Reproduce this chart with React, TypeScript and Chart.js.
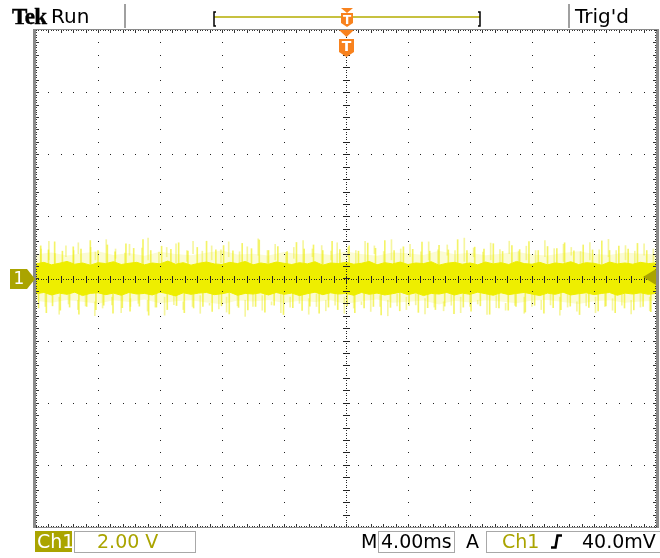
import React, { useEffect, useRef } from "react";
import { Chart, registerables } from "chart.js";

Chart.register(...registerables);

// ---- Scope settings ----
const timeRangeMs = [-20, 20]; // 4.00 ms/div, 10 divisions, trigger centred
const voltRange = [-8, 8]; // 2.00 V/div, 8 divisions, Ch1 ground at centre
const timePerDiv = 4;
const voltPerDiv = 2;
const triggerLevelV = 0.04;

// ---- Trace: dense core band (every 0.5 ms) ----
const coreTimes = Array.from({ length: 81 }, (_, i) => -20 + i * 0.5);
const coreHigh = [
  0.47, 0.52, 0.44, 0.49, 0.55, 0.46, 0.5, 0.43, 0.51, 0.48,
  0.54, 0.45, 0.49, 0.52, 0.44, 0.5, 0.47, 0.56, 0.46, 0.51,
  0.43, 0.49, 0.53, 0.47, 0.45, 0.52, 0.48, 0.55, 0.44, 0.5,
  0.46, 0.53, 0.49, 0.45, 0.51, 0.47, 0.54, 0.43, 0.5, 0.48,
  0.52, 0.46, 0.49, 0.55, 0.44, 0.51, 0.47, 0.53, 0.45, 0.5,
  0.48, 0.54, 0.43, 0.49, 0.52, 0.46, 0.5, 0.44, 0.53, 0.47,
  0.51, 0.45, 0.55, 0.48, 0.46, 0.52, 0.44, 0.5, 0.47, 0.54,
  0.45, 0.51, 0.49, 0.43, 0.53, 0.47, 0.5, 0.46, 0.52, 0.48,
  0.5,
];
const coreLow = [
  -0.49, -0.45, -0.53, -0.47, -0.51, -0.44, -0.55, -0.48, -0.46, -0.52,
  -0.47, -0.54, -0.45, -0.5, -0.48, -0.53, -0.44, -0.49, -0.56, -0.46,
  -0.51, -0.47, -0.45, -0.52, -0.49, -0.44, -0.54, -0.48, -0.5, -0.46,
  -0.53, -0.45, -0.51, -0.47, -0.55, -0.49, -0.44, -0.52, -0.46, -0.5,
  -0.48, -0.54, -0.45, -0.51, -0.47, -0.53, -0.49, -0.44, -0.52, -0.46,
  -0.55, -0.48, -0.5, -0.45, -0.53, -0.47, -0.51, -0.44, -0.49, -0.54,
  -0.46, -0.52, -0.48, -0.45, -0.5, -0.55, -0.47, -0.51, -0.44, -0.53,
  -0.49, -0.46, -0.52, -0.48, -0.45, -0.54, -0.47, -0.5, -0.46, -0.51,
  -0.48,
];

// ---- Trace: faint haze around the band (every 1 ms) ----
const hazeTimes = Array.from({ length: 41 }, (_, i) => -20 + i);
const hazeHigh = [
  0.78, 0.84, 0.74, 0.81, 0.88, 0.76, 0.82, 0.73, 0.86, 0.79, 0.75, 0.83, 0.9, 0.77,
  0.8, 0.74, 0.85, 0.78, 0.82, 0.76, 0.87, 0.79, 0.73, 0.84, 0.81, 0.76, 0.89, 0.78,
  0.83, 0.75, 0.8, 0.86, 0.77, 0.74, 0.82, 0.88, 0.79, 0.76, 0.84, 0.8, 0.78,
];
const hazeLow = [
  -0.72, -0.78, -0.69, -0.75, -0.81, -0.7, -0.76, -0.68, -0.8, -0.73, -0.7, -0.77,
  -0.83, -0.71, -0.74, -0.69, -0.79, -0.72, -0.76, -0.7, -0.82, -0.73, -0.68, -0.78,
  -0.75, -0.71, -0.84, -0.72, -0.77, -0.7, -0.74, -0.8, -0.71, -0.69, -0.76, -0.82,
  -0.73, -0.7, -0.78, -0.74, -0.72,
];

// ---- Trace: noise spikes leaving the band [time ms, peak V] ----
const spikeBaseV = 0.4;
const upSpikes = [
  [-19.6, 1.05], [-19.1, 0.92], [-18.7, 1.18], [-18.2, 0.88], [-17.5, 1.02], [-17.0, 0.95],
  [-16.4, 1.22], [-15.9, 0.9], [-15.3, 1.08], [-14.8, 0.86], [-14.1, 1.12], [-13.6, 0.97],
  [-13.0, 1.25], [-12.5, 0.9], [-11.8, 1.04], [-11.2, 0.94], [-10.7, 1.15], [-10.1, 0.88],
  [-9.5, 1.0], [-8.9, 1.2], [-8.3, 0.92], [-7.8, 1.06], [-7.2, 0.89], [-6.6, 1.13],
  [-6.0, 0.96], [-5.5, 1.24], [-4.9, 0.9], [-4.3, 1.03], [-3.7, 0.87], [-3.1, 1.16],
  [-2.6, 0.95], [-2.0, 1.08], [-1.4, 0.9], [-0.8, 1.2], [-0.3, 0.93], [0.3, 1.05],
  [0.9, 0.88], [1.5, 1.14], [2.0, 0.97], [2.6, 1.22], [3.2, 0.9], [3.8, 1.02],
  [4.4, 0.94], [5.0, 1.17], [5.5, 0.88], [6.1, 1.07], [6.7, 0.92], [7.3, 1.25],
  [7.9, 0.9], [8.4, 1.01], [9.0, 0.95], [9.6, 1.12], [10.2, 0.87], [10.8, 1.06],
  [11.3, 0.93], [11.9, 1.19], [12.5, 0.9], [13.1, 1.03], [13.7, 0.96], [14.2, 1.15],
  [14.8, 0.89], [15.4, 1.08], [16.0, 0.92], [16.6, 1.21], [17.1, 0.9], [17.7, 1.04],
  [18.3, 0.95], [18.9, 1.13], [19.5, 0.9],
];
const downSpikes = [
  [-19.8, -0.95], [-19.3, -1.1], [-18.9, -0.88], [-18.4, -1.02], [-17.8, -0.92], [-17.2, -1.15],
  [-16.7, -0.9], [-16.1, -1.0], [-15.6, -0.86], [-15.0, -1.12], [-14.4, -0.94], [-13.9, -1.05],
  [-13.3, -0.89], [-12.7, -1.18], [-12.2, -0.92], [-11.5, -1.0], [-10.9, -0.87], [-10.4, -1.1],
  [-9.8, -0.95], [-9.2, -0.9], [-8.6, -1.06], [-8.0, -0.88], [-7.5, -1.14], [-6.9, -0.93],
  [-6.3, -1.01], [-5.8, -0.9], [-5.2, -1.08], [-4.6, -0.86], [-4.0, -1.16], [-3.4, -0.94],
  [-2.8, -1.03], [-2.3, -0.89], [-1.7, -1.12], [-1.1, -0.92], [-0.5, -1.0], [0.1, -0.88],
  [0.6, -1.1], [1.2, -0.95], [1.8, -0.9], [2.3, -1.17], [2.9, -0.93], [3.5, -1.04],
  [4.1, -0.87], [4.7, -1.09], [5.3, -0.94], [5.8, -1.0], [6.4, -0.89], [7.0, -1.13],
  [7.6, -0.92], [8.1, -1.05], [8.7, -0.88], [9.3, -1.15], [9.9, -0.95], [10.5, -1.02],
  [11.0, -0.9], [11.6, -1.08], [12.2, -0.86], [12.8, -1.12], [13.4, -0.94], [13.9, -1.0],
  [14.5, -0.89], [15.1, -1.16], [15.7, -0.93], [16.3, -1.04], [16.8, -0.88], [17.4, -1.1],
  [18.0, -0.95], [18.6, -1.01], [19.2, -0.9], [19.7, -1.07],
];

// ---- Trace: faint detached noise segments [time ms, low V, high V] ----
const upperSegments = [
  [-19.7, 0.5, 0.95], [-19.2, 0.6, 1.2], [-18.8, 0.45, 0.8], [-18.1, 0.7, 1.05], [-17.6, 0.5, 0.9],
  [-17.3, 0.8, 1.15], [-16.5, 0.45, 1.0], [-16.2, 0.6, 0.85], [-15.5, 0.5, 1.25], [-14.9, 0.65, 0.95],
  [-14.3, 0.45, 0.82], [-14.0, 0.75, 1.1], [-13.2, 0.5, 0.98], [-12.8, 0.6, 1.3], [-12.1, 0.45, 0.85],
  [-11.6, 0.7, 1.0], [-11.0, 0.5, 1.12], [-10.3, 0.55, 0.9], [-9.9, 0.8, 1.2], [-9.3, 0.45, 0.88],
  [-8.7, 0.6, 1.05], [-8.1, 0.5, 0.92], [-7.6, 0.7, 1.18], [-6.9, 0.45, 0.86], [-6.4, 0.55, 1.02],
  [-5.7, 0.75, 1.28], [-5.1, 0.5, 0.9], [-4.6, 0.6, 1.1], [-3.9, 0.45, 0.84], [-3.4, 0.65, 1.0],
  [-2.8, 0.5, 1.22], [-2.2, 0.7, 0.95], [-1.6, 0.45, 1.06], [-1.0, 0.6, 0.88], [-0.6, 0.5, 1.15],
  [0.1, 0.7, 1.0], [0.6, 0.45, 0.9], [1.2, 0.55, 1.2], [1.8, 0.8, 1.05], [2.4, 0.5, 0.87],
  [2.9, 0.6, 1.25], [3.5, 0.45, 0.95], [4.1, 0.7, 1.1], [4.8, 0.5, 0.86], [5.3, 0.6, 1.18],
  [5.9, 0.45, 0.92], [6.5, 0.75, 1.08], [7.0, 0.5, 0.9], [7.6, 0.55, 1.3], [8.2, 0.7, 0.98],
  [8.8, 0.45, 0.85], [9.3, 0.6, 1.14], [9.9, 0.5, 0.93], [10.5, 0.8, 1.2], [11.1, 0.45, 0.88],
  [11.6, 0.6, 1.04], [12.2, 0.5, 0.9], [12.8, 0.7, 1.22], [13.4, 0.45, 0.96], [14.0, 0.55, 1.1],
  [14.5, 0.75, 1.0], [15.1, 0.5, 0.87], [15.7, 0.6, 1.16], [16.3, 0.45, 0.92], [16.9, 0.7, 1.26],
  [17.4, 0.5, 0.9], [18.0, 0.6, 1.06], [18.6, 0.45, 0.88], [19.2, 0.75, 1.12], [19.8, 0.5, 0.95],
];
const lowerSegments = [
  [-19.5, -0.9, -0.5], [-18.6, -1.15, -0.6], [-18.0, -0.82, -0.45], [-17.4, -1.0, -0.7], [-16.9, -0.88, -0.5],
  [-16.3, -1.2, -0.75], [-15.8, -0.95, -0.45], [-15.2, -0.85, -0.6], [-14.6, -1.1, -0.5], [-14.0, -0.9, -0.65],
  [-13.5, -0.8, -0.45], [-12.9, -1.05, -0.7], [-12.4, -0.92, -0.5], [-11.8, -1.18, -0.6], [-11.2, -0.84, -0.45],
  [-10.6, -1.0, -0.75], [-10.0, -0.9, -0.5], [-9.5, -1.12, -0.55], [-8.9, -0.86, -0.8], [-8.3, -0.98, -0.45],
  [-7.8, -1.08, -0.6], [-7.1, -0.88, -0.5], [-6.6, -1.22, -0.7], [-6.1, -0.9, -0.45], [-5.5, -1.02, -0.55],
  [-4.9, -0.85, -0.75], [-4.3, -1.1, -0.5], [-3.7, -0.92, -0.6], [-3.1, -0.8, -0.45], [-2.5, -1.15, -0.65],
  [-2.0, -0.9, -0.5], [-1.4, -1.04, -0.7], [-0.8, -0.86, -0.45], [-0.2, -1.12, -0.6], [0.4, -0.95, -0.5],
  [0.9, -0.84, -0.75], [1.5, -1.06, -0.45], [2.1, -0.9, -0.55], [2.6, -1.2, -0.7], [3.2, -0.88, -0.5],
  [3.8, -1.0, -0.6], [4.4, -0.85, -0.45], [5.0, -1.14, -0.65], [5.6, -0.92, -0.5], [6.2, -1.04, -0.75],
  [6.7, -0.86, -0.45], [7.3, -1.1, -0.6], [7.9, -0.9, -0.5], [8.4, -0.82, -0.7], [9.0, -1.16, -0.45],
  [9.6, -0.94, -0.55], [10.2, -1.02, -0.8], [10.8, -0.87, -0.5], [11.4, -1.12, -0.6], [11.9, -0.9, -0.45],
  [12.5, -1.0, -0.7], [13.1, -0.85, -0.5], [13.7, -1.18, -0.6], [14.2, -0.92, -0.45], [14.8, -1.05, -0.75],
  [15.4, -0.88, -0.5], [16.0, -1.1, -0.6], [16.6, -0.9, -0.45], [17.1, -1.02, -0.65], [17.7, -0.86, -0.5],
  [18.3, -1.14, -0.7], [18.9, -0.92, -0.45], [19.5, -1.04, -0.6],
];

const TRACE = "#eeee00";
const OLIVE = "#aaa400";
const ORANGE = "#f8821e";

const scopeOverlay = {
  id: "scopeOverlay",
  afterDatasetsDraw(chart: any) {
    const { ctx, chartArea: a, scales } = chart;
    const xs = scales.x;
    const ys = scales.y;
    const X = (t: number) => Math.round(xs.getPixelForValue(t));
    const Y = (v: number) => Math.round(ys.getPixelForValue(v));
    const [t0, t1] = timeRangeMs;
    const [v0, v1] = voltRange;
    const minorT = timePerDiv / 5;
    const minorV = voltPerDiv / 5;
    const fineT = timePerDiv / 25;
    const fineV = voltPerDiv / 25;
    const eps = 1e-6;
    ctx.save();
    ctx.fillStyle = "#222";
    for (let t = t0 + timePerDiv; t < t1 - eps; t += timePerDiv) {
      if (Math.abs(t) < eps) continue;
      const px = X(t);
      for (let v = v0 + minorV; v < v1 - eps; v += minorV) ctx.fillRect(px, Y(v), 1, 1);
    }
    for (let v = v0 + voltPerDiv; v < v1 - eps; v += voltPerDiv) {
      if (Math.abs(v) < eps) continue;
      const py = Y(v);
      for (let t = t0 + minorT; t < t1 - eps; t += minorT) ctx.fillRect(X(t), py, 1, 1);
    }
    const cx = X(0);
    const cy = Y(0);
    for (let t = t0; t <= t1 + eps; t += fineT) ctx.fillRect(X(t), cy, 1, 1);
    for (let v = v0; v <= v1 + eps; v += fineV) ctx.fillRect(cx, Y(v), 1, 1);
    for (let t = t0 + minorT; t < t1 - eps; t += minorT) ctx.fillRect(X(t), cy - 3, 1, 7);
    for (let v = v0 + minorV; v < v1 - eps; v += minorV) ctx.fillRect(cx - 3, Y(v), 7, 1);
    ctx.fillStyle = "#8a8a8a";
    ctx.fillRect(a.left - 3, a.top - 1, 3, a.bottom - a.top + 2);
    ctx.fillRect(a.right, a.top - 1, 3, a.bottom - a.top + 2);
    ctx.fillRect(a.left - 3, a.top - 1, a.right - a.left + 6, 1);
    ctx.fillRect(a.left - 3, a.bottom, a.right - a.left + 6, 1);
    ctx.fillStyle = "#333";
    for (let t = t0; t <= t1 + eps; t += fineT) {
      const px = X(t);
      ctx.fillRect(px, a.top, 1, 1);
      ctx.fillRect(px, a.bottom - 1, 1, 1);
    }
    for (let t = t0 + minorT; t < t1 - eps; t += minorT) {
      const px = X(t);
      ctx.fillRect(px, a.top, 1, 3);
      ctx.fillRect(px, a.bottom - 3, 1, 3);
    }
    for (let v = v0; v <= v1 + eps; v += fineV) {
      const py = Y(v);
      ctx.fillRect(a.left, py, 1, 1);
      ctx.fillRect(a.right - 1, py, 1, 1);
    }
    for (let v = v0 + minorV; v < v1 - eps; v += minorV) {
      const py = Y(v);
      ctx.fillRect(a.left, py, 3, 1);
      ctx.fillRect(a.right - 3, py, 3, 1);
    }
    // channel 1 ground marker
    ctx.fillStyle = OLIVE;
    ctx.beginPath();
    ctx.moveTo(10, cy - 10);
    ctx.lineTo(27, cy - 10);
    ctx.lineTo(35, cy);
    ctx.lineTo(27, cy + 10);
    ctx.lineTo(10, cy + 10);
    ctx.closePath();
    ctx.fill();
    ctx.fillStyle = "#fff";
    ctx.font = "17px 'DejaVu Sans'";
    ctx.textAlign = "center";
    ctx.textBaseline = "middle";
    ctx.fillText("1", 19, cy + 1);
    // trigger level marker (right)
    const ty = Y(triggerLevelV);
    ctx.fillStyle = OLIVE;
    ctx.beginPath();
    ctx.moveTo(a.right, ty - 8);
    ctx.lineTo(a.right - 13, ty);
    ctx.lineTo(a.right, ty + 8);
    ctx.closePath();
    ctx.fill();
    // trigger position marker
    ctx.fillStyle = ORANGE;
    ctx.beginPath();
    ctx.moveTo(cx - 7, a.top);
    ctx.lineTo(cx + 8, a.top);
    ctx.lineTo(cx + 0.5, a.top + 7);
    ctx.closePath();
    ctx.fill();
    ctx.beginPath();
    ctx.moveTo(cx - 7, a.top + 9);
    ctx.lineTo(cx + 8, a.top + 9);
    ctx.lineTo(cx + 8, a.top + 22);
    ctx.lineTo(cx + 0.5, a.top + 27);
    ctx.lineTo(cx - 7, a.top + 22);
    ctx.closePath();
    ctx.fill();
    ctx.fillStyle = "#fff";
    ctx.font = "bold 14px 'DejaVu Sans'";
    ctx.fillText("T", cx + 0.5, a.top + 17);
    ctx.restore();
  },
};

export default function App() {
  const canvasRef = useRef<HTMLCanvasElement | null>(null);

  useEffect(() => {
    if (!canvasRef.current) return;
    const line = (vals: number[], times: number[]) => vals.map((v, i) => ({ x: times[i], y: v }));
    const bars = (label: string, data: any[], color: string, order: number) =>
      ({ type: "bar", label, data, backgroundColor: color, barThickness: 1, order } as any);
    const chart = new Chart(canvasRef.current, {
      type: "line",
      data: {
        datasets: [
          {
            label: "Ch1 core high",
            data: line(coreHigh, coreTimes),
            borderColor: TRACE,
            borderWidth: 1,
            pointRadius: 0,
            fill: "+1",
            backgroundColor: TRACE,
            order: 0,
          },
          {
            label: "Ch1 core low",
            data: line(coreLow, coreTimes),
            borderColor: TRACE,
            borderWidth: 1,
            pointRadius: 0,
            fill: false,
            order: 0,
          },
          bars(
            "Ch1 spikes up",
            upSpikes.map(([t, v]) => ({ x: t, y: [spikeBaseV, v] })),
            "rgba(236,236,0,0.6)",
            1
          ),
          bars(
            "Ch1 spikes down",
            downSpikes.map(([t, v]) => ({ x: t, y: [v, -spikeBaseV] })),
            "rgba(236,236,0,0.6)",
            1
          ),
          bars(
            "Ch1 noise upper",
            upperSegments.map(([t, lo, hi]) => ({ x: t, y: [lo, hi] })),
            "rgba(236,236,40,0.45)",
            1
          ),
          bars(
            "Ch1 noise lower",
            lowerSegments.map(([t, lo, hi]) => ({ x: t, y: [lo, hi] })),
            "rgba(236,236,40,0.45)",
            1
          ),
          {
            label: "Ch1 haze high",
            data: line(hazeHigh, hazeTimes),
            borderColor: "rgba(240,240,90,0)",
            borderWidth: 0,
            pointRadius: 0,
            fill: "+1",
            backgroundColor: "rgba(242,242,110,0.3)",
            order: 2,
          },
          {
            label: "Ch1 haze low",
            data: line(hazeLow, hazeTimes),
            borderColor: "rgba(240,240,90,0)",
            borderWidth: 0,
            pointRadius: 0,
            fill: false,
            order: 2,
          },
        ],
      },
      options: {
        animation: false,
        responsive: false,
        devicePixelRatio: 1,
        events: [],
        layout: { padding: { left: 36, right: 4, top: 30, bottom: 31 } },
        elements: { line: { tension: 0 } },
        plugins: { legend: { display: false }, tooltip: { enabled: false } },
        scales: {
          x: {
            type: "linear",
            min: timeRangeMs[0],
            max: timeRangeMs[1],
            display: false,
            offset: false,
          },
          y: { type: "linear", min: voltRange[0], max: voltRange[1], display: false },
        },
      },
      plugins: [scopeOverlay],
    } as any);
    return () => chart.destroy();
  }, []);

  const sans = "'DejaVu Sans', Verdana, sans-serif";
  return (
    <div
      style={{
        position: "fixed",
        left: 0,
        top: 0,
        width: 660,
        height: 558,
        background: "#fff",
        overflow: "hidden",
      }}
    >
      <canvas
        ref={canvasRef}
        width={660}
        height={558}
        style={{ position: "absolute", left: 0, top: 0, width: 660, height: 558 }}
      />
      <svg
        width={660}
        height={558}
        style={{ position: "absolute", left: 0, top: 0, pointerEvents: "none" }}
      >
        {/* header */}
        <text
          x={12}
          y={24}
          fontFamily="'Liberation Serif', serif"
          fontWeight="bold"
          fontSize={23}
          letterSpacing={-0.6}
          fill="#000"
          stroke="#000"
          strokeWidth={0.45}
        >
          Tek
        </text>
        <text x={51} y={23} fontFamily={sans} fontSize={20} fill="#000">
          Run
        </text>
        <rect x={124} y={4} width={2} height={24} fill="#a0a0a0" />
        <line x1={214} y1={17} x2={480} y2={17} stroke="#b4ad00" strokeWidth={1.5} />
        <path d="M216,12 L214,12 L214,26 L216,26" stroke="#000" strokeWidth={1.5} fill="none" />
        <path d="M478,12 L480,12 L480,26 L478,26" stroke="#000" strokeWidth={1.5} fill="none" />
        <path d="M341,8 L353,8 L347,13 Z" fill={ORANGE} />
        <path d="M341,13 L353,13 L353,23 L347,27 L341,23 Z" fill={ORANGE} />
        <text x={347} y={24} textAnchor="middle" fontFamily={sans} fontWeight="bold" fontSize={12} fill="#fff">
          T
        </text>
        <rect x={568} y={4} width={2} height={24} fill="#a0a0a0" />
        <text x={575} y={23} fontFamily={sans} fontSize={20} fill="#000">
          Trig'd
        </text>
        {/* footer */}
        <rect x={35} y={531} width={37} height={21} fill={OLIVE} />
        <text x={37} y={548} fontFamily={sans} fontSize={19} fill="#fff">
          Ch1
        </text>
        <rect x={74.5} y={531.5} width={121} height={21} fill="none" stroke="#a8a8a8" strokeWidth={1} />
        <text x={97} y={548} fontFamily={sans} fontSize={19} fill={OLIVE}>
          2.00 V
        </text>
        <text x={361} y={548} fontFamily={sans} fontSize={19} fill="#000">
          M
        </text>
        <rect x={378.5} y={531.5} width={76} height={21} fill="none" stroke="#a8a8a8" strokeWidth={1} />
        <text x={381} y={548} fontFamily={sans} fontSize={19} fill="#000">
          4.00ms
        </text>
        <text x={466} y={548} fontFamily={sans} fontSize={19} fill="#000">
          A
        </text>
        <rect x={486.5} y={531.5} width={180} height={21} fill="none" stroke="#a8a8a8" strokeWidth={1} />
        <text x={502} y={548} fontFamily={sans} fontSize={19} fill={OLIVE}>
          Ch1
        </text>
        <path d="M551,547.5 L555.5,547.5 L557.5,535.5 L562,535.5" stroke="#000" strokeWidth={2.5} fill="none" />
        <text x={582} y={548} fontFamily={sans} fontSize={19} fill="#000">
          40.0mV
        </text>
      </svg>
    </div>
  );
}
